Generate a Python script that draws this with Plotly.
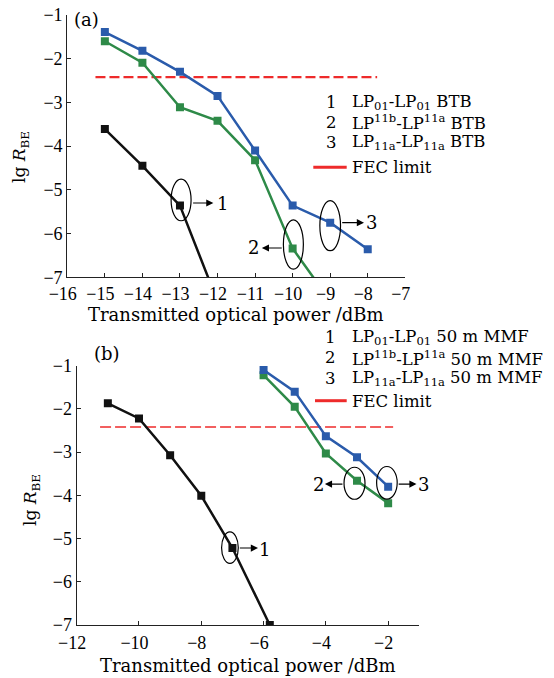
import plotly.graph_objects as go

W, H = 554, 678

# ---------------- data ----------------
# panel (a) BTB
a_x_lp01 = [-15, -14, -13, -12]
a_y_lp01 = [-3.61, -4.45, -5.36, -7.55]
a_x_lp11b = [-15, -14, -13, -12, -11, -10, -9]
a_y_lp11b = [-1.60, -2.09, -3.11, -3.42, -4.32, -6.34, -7.54]
a_x_lp11a = [-15, -14, -13, -12, -11, -10, -9, -8]
a_y_lp11a = [-1.39, -1.82, -2.30, -2.85, -4.10, -5.36, -5.75, -6.36]
a_fec_x = [-15.25, -7.75]

# panel (b) 50 m MMF
b_x_lp01 = [-11, -10, -9, -8, -7, -5.8]
b_y_lp01 = [-1.87, -2.22, -3.07, -4.01, -5.22, -7.0]
b_x_lp11b = [-6, -5, -4, -3, -2]
b_y_lp11b = [-1.22, -1.95, -3.03, -3.66, -4.18]
b_x_lp11a = [-6, -5, -4, -3, -2]
b_y_lp11a = [-1.10, -1.60, -2.63, -3.12, -3.80]
b_fec_x = [-11.25, -1.84]

fec_limit = -2.42

a_xticks = list(range(-16, -6))
b_xticks = list(range(-12, -1, 2))
yticks = list(range(-7, 0))

legend_a = ["LP<sub>01</sub>-LP<sub>01</sub> BTB",
            "LP<sup>11b</sup>-LP<sup>11a</sup> BTB",
            "LP<sub>11a</sub>-LP<sub>11a</sub> BTB",
            "FEC limit"]
legend_b = ["LP<sub>01</sub>-LP<sub>01</sub> 50 m MMF",
            "LP<sup>11b</sup>-LP<sup>11a</sup> 50 m MMF",
            "LP<sub>11a</sub>-LP<sub>11a</sub> 50 m MMF",
            "FEC limit"]

BLACK = "#111111"
GREEN = "#2e8a48"
BLUE = "#2a5bab"
RED = "#ee2b2b"
SERIF = "DejaVu Serif"
TICKF = "Liberation Serif"


def px(x):
    return x / W


def py(y):
    return 1 - y / H


def tick_text(v):
    s = str(v).replace("-", "\u2212")
    return s + "\u2002" if v < 0 else s


fig = go.Figure()


def series(x, y, color, xa, ya):
    fig.add_trace(go.Scatter(x=x, y=y, mode="lines+markers", xaxis=xa, yaxis=ya,
                             line=dict(color=color, width=2.5),
                             marker=dict(symbol="square", size=8, color=color),
                             showlegend=False, cliponaxis=True))


def fec(x, xa, ya, width, dash):
    fig.add_trace(go.Scatter(x=x, y=[fec_limit] * len(x), mode="lines", xaxis=xa, yaxis=ya,
                             line=dict(color=RED, width=width, dash=dash),
                             showlegend=False))


fec(a_fec_x, "x", "y", 2.2, "10px,4px")
series(a_x_lp01, a_y_lp01, BLACK, "x", "y")
series(a_x_lp11b, a_y_lp11b, GREEN, "x", "y")
series(a_x_lp11a, a_y_lp11a, BLUE, "x", "y")

fec(b_fec_x, "x2", "y2", 1.5, "11px,4px")
series(b_x_lp01, b_y_lp01, BLACK, "x2", "y2")
series(b_x_lp11b, b_y_lp11b, GREEN, "x2", "y2")
series(b_x_lp11a, b_y_lp11a, BLUE, "x2", "y2")

axis_common = dict(showline=True, linecolor="#222", linewidth=1.2, ticks="inside",
                   ticklen=4, tickwidth=1, tickcolor="#222", showgrid=False,
                   zeroline=False, automargin=False, tickangle=0,
                   tickfont=dict(family=TICKF, size=18, color="black"))

fig.update_layout(
    template="none",
    width=W, height=H, autosize=False,
    margin=dict(l=0, r=0, t=0, b=0, pad=0),
    paper_bgcolor="white", plot_bgcolor="white",
    xaxis=dict(domain=[px(67.3), px(405.3)], range=[-16, -7], anchor="y",
               tickmode="array", tickvals=a_xticks, ticktext=[tick_text(v) for v in a_xticks],
               ticklabelstandoff=0, **axis_common),
    yaxis=dict(domain=[py(277.3), py(15)], range=[-7, -1], anchor="x",
               tickmode="array", tickvals=yticks, **axis_common),
    xaxis2=dict(domain=[px(76.7), px(419.3)], range=[-12, -1], anchor="y2",
                tickmode="array", tickvals=b_xticks, ticktext=[tick_text(v) for v in b_xticks],
                ticklabelstandoff=1, **axis_common),
    yaxis2=dict(domain=[py(625), py(365.7)], range=[-7, -1], anchor="x2",
                tickmode="array", tickvals=yticks, **axis_common),
)

ann = []
shapes = []


def text(xp, yp, s, size, xanchor="center", angle=0, family=SERIF):
    ann.append(dict(x=px(xp), y=py(yp), xref="paper", yref="paper", text=s,
                    showarrow=False, xanchor=xanchor, yanchor="middle",
                    textangle=angle, font=dict(family=family, size=size, color="black")))


def arrow(xa, ya, tail, head, y):
    ann.append(dict(x=head, y=y, ax=tail, ay=y, xref=xa, yref=ya, axref=xa, ayref=ya,
                    text="", showarrow=True, arrowhead=2, arrowsize=1.3, arrowwidth=1.1,
                    arrowcolor="black", standoff=0, startstandoff=0))


def ellipse(xa, ya, cx, cy, rx, ry):
    shapes.append(dict(type="circle", xref=xa, yref=ya, x0=cx - rx, x1=cx + rx,
                       y0=cy - ry, y1=cy + ry, line=dict(color="black", width=1.2),
                       layer="above"))


# panel labels
text(86.5, 20, "(a)", 18)
text(107, 353, "(b)", 18)

# axis titles
text(236.3, 315, "Transmitted optical power /dBm", 18)
text(248, 665, "Transmitted optical power /dBm", 18)
text(20, 157, "lg <i>R</i><sub>BE</sub>", 17, angle=-90)
text(31, 500, "lg <i>R</i><sub>BE</sub>", 17, angle=-90)

# legends
for i, (ya, yb) in enumerate(zip([102.5, 122.5, 142.5, 167.5], [337, 357.5, 378, 401.7])):
    if i < 3:
        text(331, ya, str(i + 1), 16.5)
        text(330, yb, str(i + 1), 16.5)
    text(350, ya, legend_a[i], 16.5, xanchor="left")
    text(350, yb, legend_b[i], 16.5, xanchor="left")
shapes.append(dict(type="line", xref="paper", yref="paper", x0=px(313.3), x1=px(346.7),
                   y0=py(167.3), y1=py(167.3), line=dict(color=RED, width=3)))
shapes.append(dict(type="line", xref="paper", yref="paper", x0=px(315), x1=px(346.7),
                   y0=py(400.7), y1=py(400.7), line=dict(color=RED, width=3)))

# panel (a) callouts
ellipse("x", "y", -12.97, -5.23, 0.266, 0.477)
ellipse("x", "y", -9.98, -6.25, 0.266, 0.564)
ellipse("x", "y", -9.00, -5.82, 0.275, 0.572)
arrow("x", "y", -12.69, -12.11, -5.30)
arrow("x", "y", -10.25, -10.82, -6.33)
arrow("x", "y", -8.72, -8.10, -5.75)
text(222.5, 203, "1", 18)
text(253, 247.5, "2", 18)
text(371.3, 222.5, "3", 18)

# panel (b) callouts
ellipse("x2", "y2", -7.08, -5.21, 0.268, 0.366)
ellipse("x2", "y2", -3.08, -3.72, 0.337, 0.37)
ellipse("x2", "y2", -2.04, -3.71, 0.33, 0.377)
arrow("x2", "y2", -6.81, -6.18, -5.22)
arrow("x2", "y2", -3.42, -4.03, -3.74)
arrow("x2", "y2", -1.71, -1.09, -3.74)
text(264.3, 549, "1", 18)
text(318, 484, "2", 18)
text(423, 484, "3", 18)

fig.update_layout(annotations=ann, shapes=shapes)
fig.write_html("out.html")
